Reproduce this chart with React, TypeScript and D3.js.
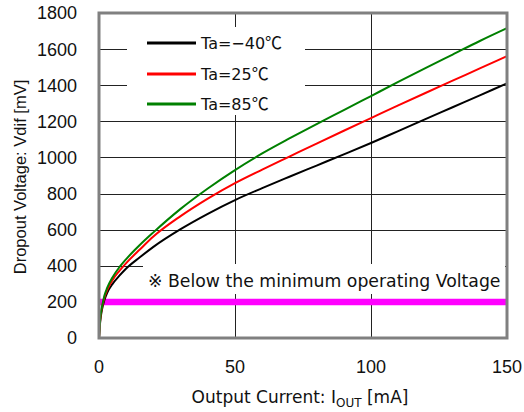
import React from "react";
import * as d3 from "d3";

const currents = [0, 0.5, 1, 2, 3, 5, 7.5, 10, 15, 20, 30, 40, 50, 60, 70, 80, 90, 100, 110, 120, 130, 140, 150];
const vMinus40 = [0, 100, 150, 210, 250, 300, 345, 385, 447, 505, 603, 688, 764, 830, 893, 955, 1017, 1080, 1146, 1212, 1278, 1344, 1410];
const v25 = [0, 110, 160, 225, 265, 322, 372, 415, 490, 562, 675, 772, 858, 933, 1005, 1077, 1148, 1218, 1288, 1357, 1425, 1493, 1561];
const v85 = [0, 115, 165, 235, 277, 337, 392, 437, 515, 585, 715, 828, 930, 1022, 1105, 1185, 1262, 1340, 1418, 1495, 1570, 1645, 1716];

const seriesNames = ["Ta=\u221240", "Ta=25", "Ta=85"];
const degUnit = "\u2103";
const seriesColors = ["#000000", "#ff0000", "#008000"];
const seriesValues = [vMinus40, v25, v85];

const xTicks = [0, 50, 100, 150];
const yTicks = [0, 200, 400, 600, 800, 1000, 1200, 1400, 1600, 1800];
const minVoltage = 200;
const noteText = "\u203B Below the minimum operating Voltage";

const W = 524;
const H = 412;
const m = { left: 99, top: 13, right: 507, bottom: 338 };
const FONT = "'Liberation Sans', Arial, 'Noto Sans CJK JP', sans-serif";
const WIDE = "'DejaVu Sans', 'Noto Sans CJK JP', sans-serif";
const CJK = "'Noto Sans CJK JP', sans-serif";

export default function App() {
  const x = d3.scaleLinear().domain([0, 150]).range([m.left, m.right]);
  const y = d3.scaleLinear().domain([0, 1800]).range([m.bottom, m.top]);
  const line = d3
    .line<number>()
    .x((_, i) => x(currents[i]))
    .y((d) => y(d))
    .curve(d3.curveMonotoneX);

  const legendX1 = 147;
  const legendX2 = 196;
  const legendYs = [43, 74, 104];

  return (
    <svg width={W} height={H} style={{ position: "absolute", left: 0, top: 0, background: "#fff" }}>
      <rect x={0} y={0} width={W} height={H} fill="#fff" />
      {yTicks.slice(1, -1).map((t) => (
        <line key={"h" + t} x1={m.left} x2={m.right} y1={Math.round(y(t)) + 0.5} y2={Math.round(y(t)) + 0.5} stroke="#222" strokeWidth={1} />
      ))}
      {xTicks.slice(1, -1).map((t) => (
        <line key={"v" + t} x1={Math.round(x(t)) + 0.5} x2={Math.round(x(t)) + 0.5} y1={m.top} y2={m.bottom} stroke="#222" strokeWidth={1} />
      ))}
      <rect x={127} y={27} width={178} height={88} fill="#fff" />
      <rect x={143} y={264} width={362} height={30} fill="#fff" />
      <line x1={m.left} x2={m.right} y1={y(minVoltage)} y2={y(minVoltage)} stroke="#ff00ff" strokeWidth={6.5} />
      {seriesValues.map((vals, i) => (
        <path key={i} d={line(vals) || ""} fill="none" stroke={seriesColors[i]} strokeWidth={2} />
      ))}
      <rect x={m.left} y={m.top} width={m.right - m.left} height={m.bottom - m.top} fill="none" stroke="#808080" strokeWidth={3} />
      {seriesNames.map((n, i) => (
        <g key={n}>
          <line x1={legendX1} x2={legendX2} y1={legendYs[i]} y2={legendYs[i]} stroke={seriesColors[i]} strokeWidth={3} />
          <text x={201} y={legendYs[i]} dy="0.36em" fontSize={16} fontFamily={WIDE} fill="#111">
            {n}<tspan fontFamily={CJK} fontSize={17}>{degUnit}</tspan>
          </text>
        </g>
      ))}
      <text x={148} y={281} dy="0.36em" fontSize={17.3} fontFamily={WIDE} fill="#111">{noteText}</text>
      {yTicks.map((t) => (
        <text key={"yt" + t} x={77} y={y(t)} dy="0.36em" textAnchor="end" fontSize={18} fontFamily={FONT} fill="#111">{t}</text>
      ))}
      {xTicks.map((t) => (
        <text key={"xt" + t} x={x(t)} y={367} dy="0.36em" textAnchor="middle" fontSize={18} fontFamily={FONT} fill="#111">{t}</text>
      ))}
      <text x={300} y={403} textAnchor="middle" fontSize={17} fontFamily={WIDE} fill="#111">
        Output Current: I<tspan fontSize={12} dy={4}>OUT</tspan><tspan dy={-4}> [mA]</tspan>
      </text>
      <text transform={`translate(26,177) rotate(-90)`} textAnchor="middle" fontSize={16.5} fontFamily={FONT} fill="#111">
        Dropout Voltage: Vdif [mV]
      </text>
    </svg>
  );
}
